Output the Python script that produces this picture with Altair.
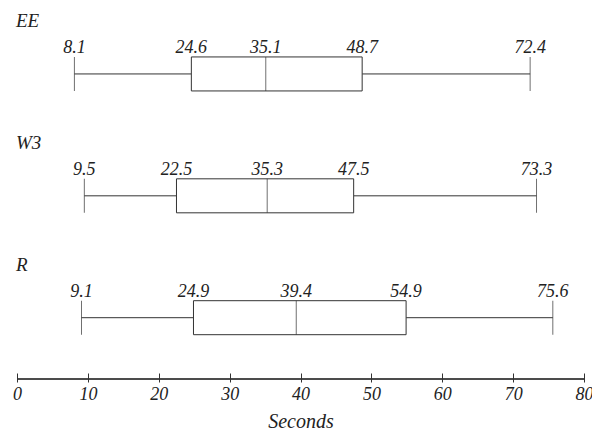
import altair as alt
import pandas as pd

groups = ["EE", "W3", "R"]
mins = [8.1, 9.5, 9.1]
q1s = [24.6, 22.5, 24.9]
meds = [35.1, 35.3, 39.4]
q3s = [48.7, 47.5, 54.9]
maxs = [72.4, 73.3, 75.6]
tick_values = [0, 10, 20, 30, 40, 50, 60, 70, 80]

W, H = 567, 371
FONT = "'Liberation Serif', 'DejaVu Serif', serif"
INK = "#333333"

box = pd.DataFrame({
    "group": groups, "row": list(range(len(groups))),
    "min": mins, "q1": q1s, "med": meds, "q3": q3s, "max": maxs,
})
labels = box.melt(id_vars=["group", "row"], value_vars=["min", "q1", "med", "q3", "max"],
                  var_name="stat", value_name="value")

xs = alt.Scale(domain=[0, 80], nice=False, zero=False)
ys = alt.Scale(domain=[-0.5, 2.462], reverse=True, nice=False, zero=False)
Y = alt.Y("row:Q", scale=ys, axis=None)

xaxis = alt.Axis(values=tick_values, domain=False, grid=False, tickSize=9, tickColor=INK,
                 tickWidth=1, offset=-6, labelFont=FONT, labelFontStyle="italic",
                 labelFontSize=18, labelColor="#222", labelPadding=3, labelFlush=False,
                 title="Seconds", titleFont=FONT, titleFontStyle="italic",
                 titleFontWeight="normal", titleFontSize=20, titleColor="#222",
                 titleBaseline="alphabetic", titleY=54)

base = alt.Chart(box)

w_lo = base.mark_rule(color=INK, strokeWidth=1).encode(
    x=alt.X("min:Q", scale=xs, axis=xaxis), x2="q1:Q", y=Y)
w_hi = base.mark_rule(color=INK, strokeWidth=1).encode(
    x=alt.X("q3:Q", scale=xs), x2="max:Q", y=Y)
bx = base.mark_bar(size=34, fill="white", stroke=INK, strokeWidth=1, orient="horizontal").encode(
    x=alt.X("q1:Q", scale=xs), x2="q3:Q", y=Y)
med = base.mark_tick(orient="vertical", size=34, thickness=1, color=INK).encode(
    x=alt.X("med:Q", scale=xs), y=Y)
cap_lo = base.mark_tick(orient="vertical", size=34, thickness=1, color=INK).encode(
    x=alt.X("min:Q", scale=xs), y=Y)
cap_hi = base.mark_tick(orient="vertical", size=34, thickness=1, color=INK).encode(
    x=alt.X("max:Q", scale=xs), y=Y)

vals = alt.Chart(labels).mark_text(font=FONT, fontStyle="italic", fontSize=18, color="#222",
                                   baseline="alphabetic", align="center", dy=-21).encode(
    x=alt.X("value:Q", scale=xs), y=Y, text=alt.Text("value:Q", format=".1f"))

names = base.mark_text(font=FONT, fontStyle="italic", fontSize=19, color="#222",
                       baseline="alphabetic", align="left", dy=-47, dx=-1).encode(
    x=alt.datum(0, scale=xs), y=Y, text="group:N")

axis_line = base.mark_rule(color=INK, strokeWidth=1).encode(
    x=alt.datum(0), x2=alt.datum(80), y=alt.value(H))

chart = alt.layer(w_lo, w_hi, bx, med, cap_lo, cap_hi, vals, names, axis_line).properties(
    width=W, height=H,
    autosize=alt.AutoSizeParams(type="none"),
    padding={"left": 9, "top": 0, "right": 8, "bottom": 54},
    background="white",
).configure_view(stroke=None)

chart.save("out.html", embed_options={"renderer": "svg", "actions": False})
